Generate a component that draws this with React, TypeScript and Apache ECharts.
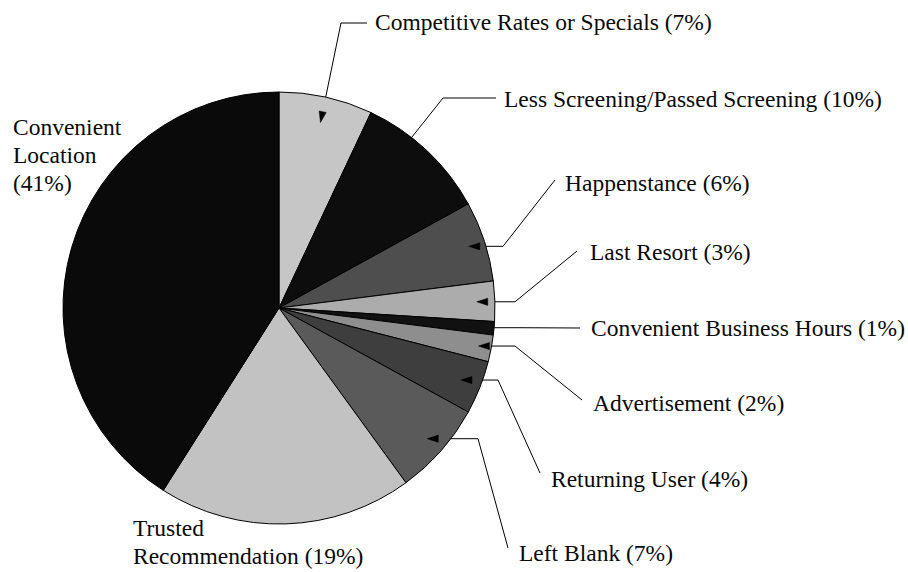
import React, { useEffect, useRef } from "react";
import * as echarts from "echarts";

// ---- data ----
const categories = [
  "Competitive Rates or Specials",
  "Less Screening/Passed Screening",
  "Happenstance",
  "Last Resort",
  "Convenient Business Hours",
  "Advertisement",
  "Returning User",
  "Left Blank",
  "Trusted Recommendation",
  "Convenient Location",
];
const values = [7, 10, 6, 3, 1, 2, 4, 7, 19, 41];

// ---- styles / layout ----
const colors = [
  "#c6c6c6",
  "#0d0d0d",
  "#4e4e4e",
  "#acacac",
  "#111111",
  "#8e8e8e",
  "#3e3e3e",
  "#5a5a5a",
  "#c2c2c2",
  "#0a0a0a",
];

const CX = 279;
const CY = 308;
const R = 216;
const FONT = "Liberation Serif";

type Lay = {
  label: [number, number];
  fmt: "one" | "two" | "three";
  tipR?: number;
  tipPct?: number;
  elbow?: [number, number | null];
  end?: [number, number];
  arrow?: boolean;
};

const layout: Lay[] = [
  { label: [375, 22], fmt: "one", tipR: 0.88, elbow: [341, 23], end: [367, 23], arrow: true },
  { label: [504, 99], fmt: "one", tipR: 0.9, tipPct: 10.5, elbow: [443, 98], end: [496, 98], arrow: false },
  { label: [565, 183], fmt: "one", tipR: 0.924, elbow: [503, null], end: [555, 180], arrow: true },
  { label: [590, 252], fmt: "one", tipR: 0.916, elbow: [515, null], end: [577, 251], arrow: true },
  { label: [591, 328], fmt: "one", tipR: 0.97, elbow: [520, null], end: [580, 328], arrow: false },
  { label: [593, 403], fmt: "one", tipR: 0.94, elbow: [515, null], end: [582, 400], arrow: true },
  { label: [551, 479], fmt: "one", tipR: 0.906, elbow: [498, null], end: [540, 473], arrow: true },
  { label: [519, 553], fmt: "one", tipR: 0.915, elbow: [478, null], end: [508, 548], arrow: true },
  { label: [133, 542], fmt: "two" },
  { label: [13, 155], fmt: "three" },
];

function formatLabel(name: string, v: number, fmt: string) {
  if (fmt === "three") return name.replace(" ", "\n") + "\n(" + v + "%)";
  if (fmt === "two") return name.replace(" ", "\n") + " (" + v + "%)";
  return name + " (" + v + "%)";
}

function leaderPoints(i: number): number[][] | null {
  const L = layout[i];
  if (!L.end || !L.elbow) return null;
  const total = values.reduce((a, b) => a + b, 0);
  let cum = 0;
  for (let k = 0; k < i; k++) cum += values[k];
  const pct = L.tipPct !== undefined ? L.tipPct : ((cum + values[i] / 2) / total) * 100;
  const ang = (pct / 100) * Math.PI * 2; // clockwise from top
  const r = R * (L.tipR || 0.9);
  const tip = [CX + r * Math.sin(ang), CY - r * Math.cos(ang)];
  const elbow = [L.elbow[0], L.elbow[1] === null ? tip[1] : L.elbow[1]];
  return [tip, elbow, [L.end[0], L.end[1]]];
}

function arrowHead(pts: number[][]) {
  const [tip, next] = pts;
  const dx = tip[0] - next[0];
  const dy = tip[1] - next[1];
  const len = Math.hypot(dx, dy) || 1;
  const ux = dx / len;
  const uy = dy / len;
  const L = 11;
  const W = 3.6;
  const bx = tip[0] - ux * L;
  const by = tip[1] - uy * L;
  return [
    [tip[0], tip[1]],
    [bx - uy * W, by + ux * W],
    [bx + uy * W, by - ux * W],
  ];
}

export default function App() {
  const ref = useRef<HTMLDivElement>(null);

  useEffect(() => {
    if (!ref.current) return;
    const chart = echarts.init(ref.current, null, { renderer: "svg" });

    const arrows: any[] = [];
    layout.forEach((L, i) => {
      const pts = leaderPoints(i);
      if (pts && L.arrow) {
        arrows.push({
          type: "polygon",
          silent: true,
          z: 100,
          shape: { points: arrowHead(pts) },
          style: { fill: "#000", stroke: "#000", lineWidth: 0.5 },
        });
      }
    });

    chart.setOption({
      animation: false,
      backgroundColor: "#ffffff",
      graphic: arrows,
      series: [
        {
          type: "pie",
          center: [CX, CY],
          radius: R,
          startAngle: 90,
          clockwise: true,
          avoidLabelOverlap: false,
          silent: true,
          emphasis: { disabled: true },
          itemStyle: { borderColor: "#000", borderWidth: 1 },
          label: {
            show: true,
            position: "outside",
            fontFamily: FONT,
            fontSize: 23.5,
            lineHeight: 28,
            color: "#0a0a0a",
            formatter: (p: any) => formatLabel(p.name, p.value, layout[p.dataIndex].fmt),
          },
          labelLine: {
            show: true,
            smooth: false,
            lineStyle: { color: "#000", width: 1 },
          },
          labelLayout: (params: any) => {
            const i = params.dataIndex;
            const L = layout[i];
            const out: any = {
              x: L.label[0],
              y: L.label[1],
              align: "left",
              verticalAlign: "middle",
            };
            const pts = leaderPoints(i);
            if (pts) out.labelLinePoints = pts;
            return out;
          },
          data: categories.map((n, i) => ({
            name: n,
            value: values[i],
            itemStyle: { color: colors[i] },
            labelLine: { show: !!layout[i].end },
          })),
        },
      ],
    });

    return () => chart.dispose();
  }, []);

  return (
    <div
      ref={ref}
      style={{ position: "absolute", left: 0, top: 0, width: 908, height: 572, background: "#fff" }}
    />
  );
}
